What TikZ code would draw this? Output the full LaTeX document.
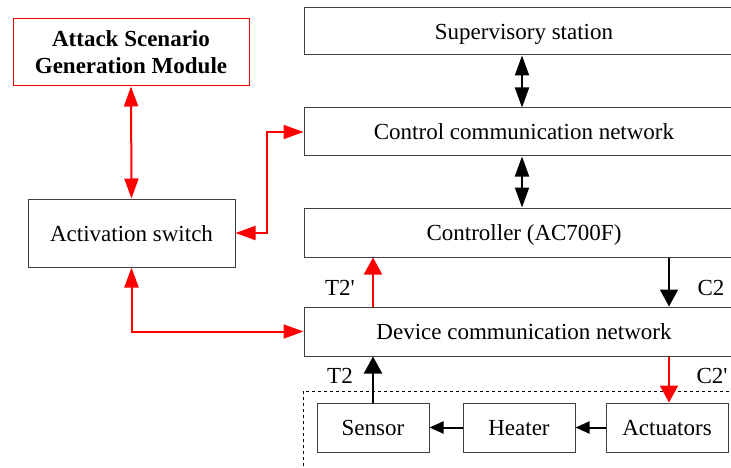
\documentclass[tikz,border=0pt]{standalone}
\usepackage{fontspec}
\setmainfont{Liberation Serif}
% straight apostrophe for the signal names
\newfontfamily\lblfont{Liberation Serif}[Ligatures=TeXOff]
\usetikzlibrary{arrows.meta}

\definecolor{boxline}{HTML}{404040}

\tikzset{
  blk/.style={draw=boxline, line width=1pt, fill=white, inner sep=0pt,
    font=\fontsize{23}{27}\selectfont, align=center,
    text height=16pt, text depth=0pt},
  redblk/.style={draw=red, line width=1pt, fill=white, inner sep=0pt,
    font=\fontsize{23}{27}\selectfont\bfseries, align=center},
  redlink/.style={draw=red, line width=2pt},
  blacklink/.style={draw=black, line width=2pt},
  bigtip/.tip={Triangle[length=20pt,width=14pt]},
  midtip/.tip={Triangle[length=17pt,width=18pt]},
  smalltip/.tip={Triangle[length=14pt,width=12pt]},
  lbl/.style={font=\lblfont\fontsize{23}{27}\selectfont, inner sep=0pt,
    text height=16pt, text depth=0pt}
}

\begin{document}
\begin{tikzpicture}[x=1pt, y=-1pt]
  \useasboundingbox (0,0) rectangle (731,468);
  \clip (0,0) rectangle (731,468);

  % plant boundary
  \draw[dashed, line width=0.8pt, draw=black] (303,520) -- (303,391) -- (760,391);

  % left-hand attack path
  \node[redblk, minimum width=236pt, minimum height=67pt]
    (att) at (131,52.5) {Attack Scenario\\Generation Module};
  \node[blk, minimum width=207pt, minimum height=68pt] (sw) at (131.5,233) {Activation switch};

  % control hierarchy
  \node[blk, minimum width=440pt, minimum height=47pt] (sup) at (524,31.5) {Supervisory station};
  \node[blk, minimum width=440pt, minimum height=48pt] (ccn) at (524,132) {Control communication network};
  \node[blk, minimum width=440pt, minimum height=49pt] (ctl) at (524,232.5) {Controller (AC700F)};
  \node[blk, minimum width=440pt, minimum height=49pt] (dcn) at (524,331.5) {Device communication network};

  % field devices
  \node[blk, minimum width=112pt, minimum height=49pt] (sen) at (373,427.5) {Sensor};
  \node[blk, minimum width=112pt, minimum height=49pt] (hea) at (519,427.5) {Heater};
  \node[blk, minimum width=122pt, minimum height=49pt] (actu) at (667,427.5) {Actuators};

  % attack module links
  \draw[redlink, {bigtip}-{bigtip}] (att.south) -- (sw.north);
  \draw[redlink, {bigtip}-{bigtip}] (sw.east) -- ++(31,0) |- (ccn.west);
  \draw[redlink, {bigtip}-{bigtip}] (sw.south) |- (dcn.west);

  % hierarchy links
  \draw[blacklink, {bigtip}-{bigtip}] ([xshift=-2pt]sup.south) -- ([xshift=-2pt]ccn.north);
  \draw[blacklink, {bigtip}-{bigtip}] ([xshift=-2pt]ccn.south) -- ([xshift=-2pt]ctl.north);

  % signals between controller and devices
  \draw[redlink, -{midtip}] (dcn.north -| sen.north) -- (ctl.south -| sen.north);
  \draw[blacklink, -{midtip}] ([xshift=2pt]ctl.south -| actu.north) -- ([xshift=2pt]dcn.north -| actu.north);
  \draw[blacklink, -{midtip}] (sen.north) -- (dcn.south -| sen.north);
  \draw[redlink, -{midtip}] ([xshift=2pt]dcn.south -| actu.north) -- ([xshift=2pt]actu.north);

  % process chain
  \draw[blacklink, -{smalltip}] (hea.west) -- (sen.east);
  \draw[blacklink, -{smalltip}] (actu.west) -- (hea.east);

  % signal labels
  \node[lbl] (t2p) at (340,287.5) {T2'};
  \node[lbl] (c2) at (711,287.5) {C2};
  \node[lbl] (t2) at (340,375.5) {T2};
  \node[lbl] (c2p) at (712,375.5) {C2'};
\end{tikzpicture}
\end{document}
